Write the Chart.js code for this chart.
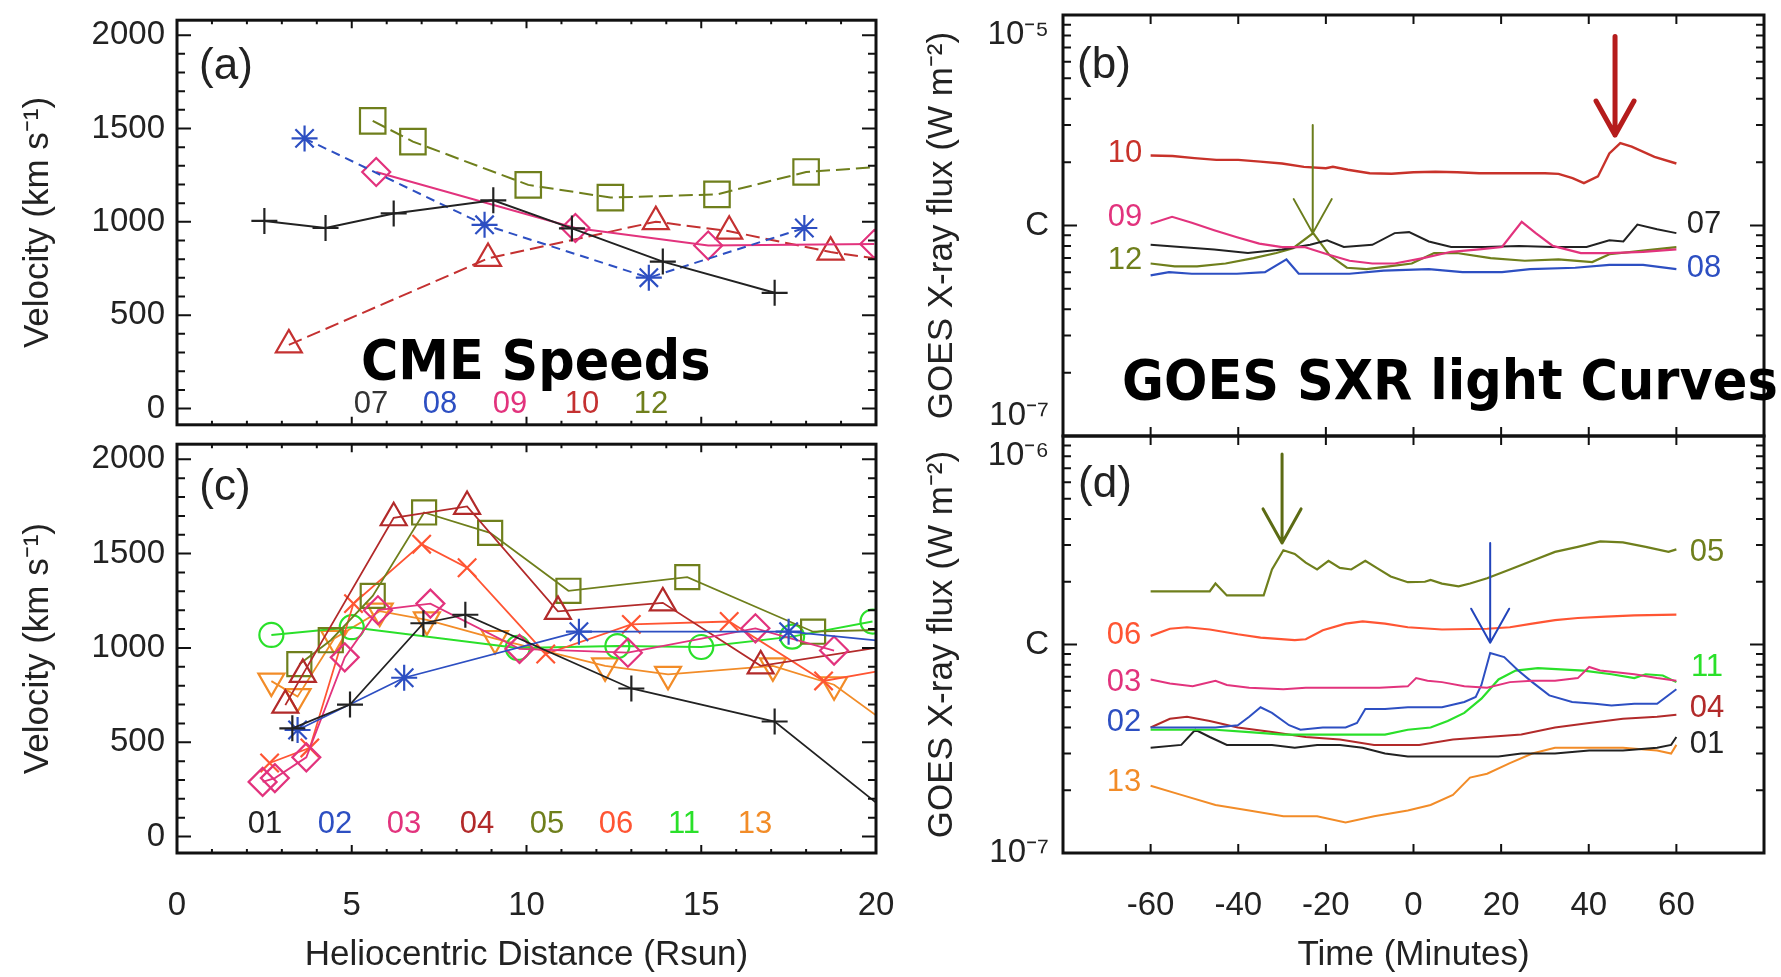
<!DOCTYPE html>
<html>
<head>
<meta charset="utf-8">
<script src="https://cdn.jsdelivr.net/npm/chart.js@4.4.0/dist/chart.umd.min.js"></script>
<style>
  html, body { margin: 0; padding: 0; background: #fff; overflow: hidden; }
  #page { position: relative; width: 1781px; height: 977px; overflow: hidden; font-family: 'Liberation Sans', Arial, Helvetica, sans-serif; }
  canvas { position: absolute; }
  .lab { position: absolute; font-size: 31px; line-height: 1; transform: translate(-50%, -50%); white-space: nowrap; }
  .panel { position: absolute; font-size: 44px; line-height: 1; transform: translate(-50%, -50%); color: #222; }
  .big { position: absolute; font-family: 'DejaVu Sans', sans-serif; font-weight: bold; font-size: 55px; line-height: 1; transform-origin: 0 0; white-space: nowrap; color: #000; }
</style>
</head>
<body>
<div id="page">
  <canvas id="chartA" style="left:0;top:0" width="900" height="445"></canvas>
  <canvas id="chartB" style="left:900px;top:0" width="881" height="445"></canvas>
  <canvas id="chartC" style="left:0;top:425px" width="900" height="552"></canvas>
  <canvas id="chartD" style="left:900px;top:425px" width="881" height="552"></canvas>

  <div class="panel" style="left:226px;top:64px">(a)</div>
  <div class="panel" style="left:1104px;top:63px">(b)</div>
  <div class="panel" style="left:225px;top:485px">(c)</div>
  <div class="panel" style="left:1105px;top:482px">(d)</div>

  <div class="lab" style="left:371px;top:402px;color:#333">07</div>
  <div class="lab" style="left:440px;top:402px;color:#2d4fc2">08</div>
  <div class="lab" style="left:510px;top:402px;color:#e2337d">09</div>
  <div class="lab" style="left:582px;top:402px;color:#c43131">10</div>
  <div class="lab" style="left:651px;top:402px;color:#6f7f1c">12</div>

  <div class="lab" style="left:265px;top:822px;color:#222">01</div>
  <div class="lab" style="left:335px;top:822px;color:#2d4fc2">02</div>
  <div class="lab" style="left:404px;top:822px;color:#e2337d">03</div>
  <div class="lab" style="left:477px;top:822px;color:#b22a2a">04</div>
  <div class="lab" style="left:547px;top:822px;color:#6f7f1c">05</div>
  <div class="lab" style="left:616px;top:822px;color:#ff5533">06</div>
  <div class="lab" style="left:684px;top:822px;color:#2ae02a">11</div>
  <div class="lab" style="left:755px;top:822px;color:#f28c28">13</div>

  <div class="lab" style="left:1125px;top:151px;color:#c8322a">10</div>
  <div class="lab" style="left:1125px;top:215px;color:#e2337d">09</div>
  <div class="lab" style="left:1125px;top:258px;color:#6f7f1c">12</div>
  <div class="lab" style="left:1704px;top:222px;color:#222">07</div>
  <div class="lab" style="left:1704px;top:266px;color:#2d4fc2">08</div>

  <div class="lab" style="left:1707px;top:550px;color:#6f7f1c">05</div>
  <div class="lab" style="left:1124px;top:633px;color:#ff5533">06</div>
  <div class="lab" style="left:1124px;top:680px;color:#e2337d">03</div>
  <div class="lab" style="left:1124px;top:720px;color:#2d4fc2">02</div>
  <div class="lab" style="left:1124px;top:780px;color:#f28c28">13</div>
  <div class="lab" style="left:1707px;top:665px;color:#2ae02a">11</div>
  <div class="lab" style="left:1707px;top:706px;color:#b22a2a">04</div>
  <div class="lab" style="left:1707px;top:742px;color:#222">01</div>

  <div class="big" data-w="350" style="left:361px;top:333px">CME Speeds</div>
  <div class="big" data-w="656" style="left:1122px;top:353px">GOES SXR light Curves</div>
</div>

<script>
// ---- panel (a): CME speed vs heliocentric distance ----
const aR07 = [2.5, 4.25, 6.2, 9.05, 11.3, 13.9, 17.1];
const aV07 = [1005, 967, 1045, 1115, 965, 787, 620];
const aR08 = [3.65, 8.8, 13.5, 17.95];
const aV08 = [1447, 984, 701, 967];
const aR09 = [5.7, 11.4, 15.2, 19.95];
const aV09 = [1267, 967, 873, 881];
const aR10 = [3.2, 8.9, 13.7, 15.8, 18.7, 20];
const aV10 = [341, 804, 1001, 950, 838, 804];
const aR12 = [5.6, 6.75, 10.05, 12.4, 15.45, 18.0, 20];
const aV12 = [1541, 1430, 1198, 1130, 1147, 1267, 1293];

// ---- panel (c) ----
const cR01 = [3.3, 4.95, 7.05, 8.25, 13.0, 17.1, 20];
const cV01 = [574, 700, 1131, 1176, 785, 610, 180];
const cR02 = [3.45, 6.5, 11.5, 17.5, 20];
const cV02 = [565, 842, 1086, 1086, 1040];
const cR03 = [2.45, 2.8, 3.7, 4.8, 5.75, 7.25, 9.8, 12.9, 16.55, 18.8];
const cV03 = [290, 310, 420, 950, 1200, 1235, 995, 975, 1104, 986];
const cR04 = [3.1, 3.6, 6.2, 8.3, 10.9, 13.9, 16.7, 20];
const cV04 = [697, 860, 1690, 1750, 1194, 1239, 905, 1000];
const cR05 = [3.5, 4.4, 5.6, 7.07, 8.96, 11.2, 14.6, 18.2, 20];
const cV05 = [914, 1041, 1276, 1718, 1610, 1303, 1375, 1086, 1095];
const cR06 = [2.65, 3.8, 5.05, 7.0, 8.3, 10.55, 13.0, 15.8, 18.5, 20];
const cV06 = [390, 470, 1235, 1550, 1425, 968, 1125, 1140, 825, 875];
const cR11 = [2.7, 5.0, 9.75, 12.6, 15.0, 17.6, 19.9];
const cV11 = [1069, 1110, 1000, 1010, 1005, 1060, 1140];
const cR13 = [2.7, 3.45, 4.5, 5.8, 7.15, 9.1, 12.25, 14.05, 17.05, 18.8, 20];
const cV13 = [824, 742, 1050, 1195, 1149, 1050, 905, 860, 905, 805, 643];

// ---- panel (b): GOES flux, in units of 1e-6 W m^-2 (C class) ----
const bT10 = [-60, -55, -50, -45, -40, -35, -30, -25, -20, -18.4, -15, -10, -5, 0, 5, 10, 15, 20, 25, 30, 33.1, 36.3, 38.9, 42.1, 44.7, 47.2, 49.8, 55, 60];
const bC10 = [2.15, 2.14, 2.09, 2.05, 2.05, 2.01, 1.97, 1.90, 1.87, 1.90, 1.84, 1.77, 1.76, 1.79, 1.80, 1.79, 1.77, 1.77, 1.77, 1.77, 1.76, 1.68, 1.59, 1.71, 2.20, 2.46, 2.37, 2.12, 1.97];
const bT09 = [-60, -55.1, -50.6, -45.5, -40.3, -35.2, -30, -24.9, -19.7, -14.6, -9.4, -4.3, 2.2, 8.6, 15, 20.2, 24.7, 27.9, 31.8, 38.2, 44.7, 52.4, 60];
const bC09 = [1.02, 1.10, 1.03, 0.95, 0.88, 0.82, 0.79, 0.79, 0.73, 0.68, 0.66, 0.66, 0.70, 0.75, 0.77, 0.79, 1.04, 0.92, 0.80, 0.74, 0.74, 0.75, 0.77];
const bT07 = [-60, -53.2, -45.5, -37.8, -30, -23.6, -19.7, -15.9, -9.4, -4.3, -1, 3.5, 8.6, 16.3, 24.1, 31.8, 39.5, 44.7, 47.9, 51.1, 55.6, 60];
const bC07 = [0.81, 0.79, 0.77, 0.74, 0.77, 0.81, 0.85, 0.79, 0.81, 0.92, 0.93, 0.84, 0.79, 0.79, 0.80, 0.79, 0.79, 0.85, 0.84, 1.01, 0.96, 0.92];
const bT12 = [-60, -54.5, -49.4, -42.9, -36.5, -31.3, -27.5, -22.9, -19.1, -15.2, -10.7, -5.6, -0.4, 4.7, 9.9, 17.6, 25.4, 33.1, 40.8, 44.7, 52.4, 60];
const bC12 = [0.66, 0.64, 0.64, 0.66, 0.70, 0.74, 0.78, 0.92, 0.72, 0.63, 0.62, 0.64, 0.66, 0.74, 0.74, 0.70, 0.68, 0.69, 0.67, 0.73, 0.76, 0.79];
const bT08 = [-60, -55.8, -50.6, -40.3, -33.9, -29, -26.2, -14.6, -6.8, 3.5, 11.2, 20.2, 26.6, 36.9, 44.7, 52.4, 60];
const bC08 = [0.58, 0.60, 0.59, 0.59, 0.60, 0.69, 0.59, 0.59, 0.61, 0.62, 0.60, 0.60, 0.62, 0.63, 0.65, 0.65, 0.62];

// ---- panel (d) ----
const dT05 = [-60, -46.5, -45.2, -42.6, -34.2, -32.3, -29.7, -27.1, -24.6, -22, -19.4, -16.8, -14.2, -11, -8.4, -5.2, -1.3, 2.6, 3.9, 6.5, 10.3, 12.9, 16.8, 22, 27.1, 32.3, 37.5, 42.6, 47.8, 53, 58.2, 60];
const dC05 = [1.80, 1.80, 1.96, 1.72, 1.72, 2.29, 2.83, 2.72, 2.47, 2.29, 2.52, 2.33, 2.29, 2.52, 2.33, 2.12, 1.99, 2.00, 2.04, 1.96, 1.90, 1.96, 2.08, 2.29, 2.52, 2.78, 2.94, 3.12, 3.09, 2.94, 2.78, 2.86];
const dT06 = [-60, -55.6, -51.7, -46.5, -40.1, -34.9, -27.1, -24.6, -20.7, -15.5, -11.6, -6.5, -1.3, 6.5, 16.8, 22, 27.1, 32.3, 37.5, 43.9, 50.4, 60];
const dC06 = [1.10, 1.19, 1.21, 1.18, 1.12, 1.08, 1.05, 1.06, 1.17, 1.26, 1.29, 1.26, 1.21, 1.18, 1.19, 1.21, 1.26, 1.31, 1.34, 1.36, 1.38, 1.39];
const dT03 = [-60, -55.6, -50.4, -45.2, -42.6, -37.5, -29.7, -24.6, -16.8, -7.8, -1.3, 0.6, 3.2, 6.5, 11.6, 16.8, 22, 27.1, 32.3, 37.5, 40.1, 42.6, 50.4, 55.6, 60];
const dC03 = [0.68, 0.65, 0.63, 0.67, 0.64, 0.62, 0.61, 0.62, 0.62, 0.62, 0.63, 0.69, 0.67, 0.66, 0.63, 0.62, 0.66, 0.67, 0.67, 0.69, 0.78, 0.75, 0.72, 0.69, 0.67];
const dT02 = [-60, -53, -45.2, -40.1, -37.5, -34.9, -32.3, -28.4, -25.8, -20.7, -15.5, -12.9, -11, -6.5, -1.3, 6.5, 11.6, 14.2, 15.5, 17.5, 20.7, 23.9, 27.1, 31, 36.2, 41.4, 45.2, 50.4, 55.6, 60];
const dC02 = [0.40, 0.40, 0.40, 0.41, 0.45, 0.50, 0.47, 0.41, 0.39, 0.40, 0.40, 0.42, 0.49, 0.49, 0.50, 0.50, 0.53, 0.56, 0.64, 0.91, 0.87, 0.75, 0.66, 0.57, 0.53, 0.52, 0.51, 0.52, 0.52, 0.61];
const dT11 = [-60, -53, -45.2, -37.5, -29.7, -22, -14.2, -6.5, -1.3, 3.9, 7.8, 11.6, 15.5, 19.4, 23.3, 28.4, 33.6, 38.8, 45.2, 50.4, 53, 56.9, 60];
const dC11 = [0.39, 0.39, 0.39, 0.38, 0.37, 0.37, 0.37, 0.37, 0.39, 0.40, 0.43, 0.47, 0.55, 0.68, 0.75, 0.77, 0.76, 0.75, 0.72, 0.69, 0.72, 0.71, 0.66];
const dT04 = [-60, -55.6, -51.7, -46.5, -40.1, -32.3, -24.6, -16.8, -9, -3.9, 1.3, 9, 16.8, 24.6, 32.3, 40.1, 47.8, 55.6, 60];
const dC04 = [0.40, 0.44, 0.45, 0.43, 0.40, 0.38, 0.36, 0.35, 0.33, 0.33, 0.33, 0.35, 0.36, 0.37, 0.40, 0.42, 0.44, 0.45, 0.46];
const dT01 = [-60, -53, -49.8, -46.5, -42.6, -37.5, -32.3, -27.1, -22, -16.8, -11.6, -6.5, -1.3, 3.9, 11.6, 19.4, 24.6, 32.3, 40.1, 47.8, 55.6, 58.8, 60];
const dC01 = [0.32, 0.33, 0.39, 0.36, 0.33, 0.33, 0.33, 0.32, 0.33, 0.33, 0.32, 0.30, 0.29, 0.29, 0.29, 0.29, 0.30, 0.30, 0.31, 0.31, 0.32, 0.33, 0.36];
const dT13 = [-60, -53, -45.2, -37.5, -29.7, -22, -15.5, -9, -1.3, 3.9, 9, 12.9, 16.8, 22, 27.1, 32.3, 40.1, 47.8, 55.6, 58.8, 60];
const dC13 = [0.21, 0.19, 0.17, 0.16, 0.15, 0.15, 0.14, 0.15, 0.16, 0.17, 0.19, 0.23, 0.24, 0.27, 0.30, 0.32, 0.32, 0.32, 0.31, 0.30, 0.33];

// arrows marking flare peaks (time, tail flux, tip flux)
const bArrowT = [-23, 46];
const bArrowFrom = [3.0, 7.9];
const bArrowTo = [0.92, 2.69];
const dArrowT = [-30, 17.5];
const dArrowFrom = [8.2, 3.07];
const dArrowTo = [3.07, 1.02];

// ticks
const speedTicks = [0, 500, 1000, 1500, 2000];
const distTicks = [0, 5, 10, 15, 20];
const timeTicks = [-60, -40, -20, 0, 20, 40, 60];
const fluxTicks = [0.1, 1, 10];
const bFluxText = [['10⁻⁷', ''], 'C', ['', '10⁻⁵']];
const dFluxText = ['10⁻⁷', 'C', ['', '10⁻⁶']];

const speedMinor = [];
for (let v = 100; v < 2000; v += 100) if (v % 500) speedMinor.push(v);
const distMinor = [];
for (let v = 1; v < 20; v += 1) if (v % 5) distMinor.push(v);
const fluxMinor = [];
[0.1, 1].forEach((d) => { for (let k = 2; k <= 9; k += 1) fluxMinor.push(d * k); });

const FONT = "'Liberation Sans', Arial, Helvetica, sans-serif";
const TEXT = '#222';
const BLACK = '#222222';
const BLUE = '#2d4fc2';
const PINK = '#e2337d';
const RED = '#c43131';
const DARKRED = '#b22a2a';
const OLIVE = '#6f7f1c';
const ORANGERED = '#ff5533';
const GREEN = '#2ae02a';
const ORANGE = '#f28c28';

const framePlugin = {
  id: 'frameTicks',
  afterDraw(chart, args, o) {
    const { ctx, chartArea: a } = chart;
    const { x, y } = chart.scales;
    ctx.save();
    ctx.strokeStyle = '#111';
    ctx.lineWidth = 2;
    ctx.beginPath();
    const hTick = (v, len) => {
      const p = y.getPixelForValue(v);
      ctx.moveTo(a.left, p); ctx.lineTo(a.left + len, p);
      ctx.moveTo(a.right, p); ctx.lineTo(a.right - len, p);
    };
    const vTick = (v, len) => {
      const p = x.getPixelForValue(v);
      ctx.moveTo(p, a.top); ctx.lineTo(p, a.top + len);
      ctx.moveTo(p, a.bottom); ctx.lineTo(p, a.bottom - len);
    };
    o.yMajor.forEach((v) => hTick(v, o.yLen[0]));
    o.yMinor.forEach((v) => hTick(v, o.yLen[1]));
    o.xMajor.forEach((v) => vTick(v, o.xLen[0]));
    o.xMinor.forEach((v) => vTick(v, o.xLen[1]));
    ctx.stroke();
    ctx.lineWidth = 3;
    ctx.strokeRect(a.left, a.top, a.right - a.left, a.bottom - a.top);
    ctx.restore();
  },
};

const arrowPlugin = {
  id: 'arrows',
  afterDatasetsDraw(chart, args, o) {
    if (!o.t) return;
    const { ctx } = chart;
    const { x, y } = chart.scales;
    o.t.forEach((t, i) => {
      const px = x.getPixelForValue(t);
      const y0 = y.getPixelForValue(o.from[i]);
      const y1 = y.getPixelForValue(o.to[i]);
      ctx.save();
      ctx.strokeStyle = o.colors[i];
      ctx.lineWidth = o.widths[i];
      ctx.lineCap = 'round';
      ctx.lineJoin = 'round';
      ctx.beginPath();
      ctx.moveTo(px, y0); ctx.lineTo(px, y1);
      ctx.moveTo(px - 19, y1 - 34); ctx.lineTo(px, y1); ctx.lineTo(px + 19, y1 - 34);
      ctx.stroke();
      ctx.restore();
    });
  },
};

const makeSet = (s) => ({
  data: s.x.map((x, i) => ({ x, y: s.y[i] })),
  borderColor: s.color,
  borderWidth: s.width || 2,
  borderDash: s.dash || [],
  pointStyle: s.marker || 'circle',
  pointRadius: s.x.map((_, i) => (s.marker && !(s.tail && i === s.x.length - 1) ? s.size : 0)),
  pointRotation: s.rot || 0,
  pointBorderColor: s.color,
  pointBorderWidth: 2.2,
  pointBackgroundColor: 'rgba(255,255,255,0)',
  tension: 0,
  clip: 0,
});

const tickFont = { family: FONT, size: 33 };
const titleFont = { family: FONT, size: 35 };

const noPad = (s) => {
  s.paddingTop = 0;
  s.paddingBottom = 0;
  s.paddingLeft = 0;
  s.paddingRight = 0;
};

const makeChart = (id, cfg) => new Chart(document.getElementById(id), {
  type: 'line',
  data: { datasets: cfg.sets.map(makeSet) },
  plugins: [framePlugin, arrowPlugin],
  options: {
    responsive: false,
    animation: false,
    events: [],
    layout: { padding: cfg.pad },
    plugins: {
      legend: { display: false },
      tooltip: { enabled: false },
      frameTicks: cfg.frame,
      arrows: cfg.arrows || {},
    },
    scales: {
      x: {
        type: 'linear',
        min: cfg.xMin,
        max: cfg.xMax,
        display: cfg.showX,
        afterBuildTicks: (s) => { s.ticks = cfg.xTicks.map((value) => ({ value })); },
        afterFit: (s) => {
          noPad(s);
          s.height = cfg.showX ? 124 : 0;
        },
        grid: { display: false, drawTicks: false },
        border: { display: false },
        ticks: { padding: 33, color: TEXT, font: tickFont, maxRotation: 0, autoSkip: false, callback: (v) => String(v) },
        title: { display: cfg.showX, text: cfg.xTitle, color: TEXT, font: titleFont, padding: { top: 0, bottom: 1 } },
      },
      y: {
        type: cfg.yType,
        min: cfg.yMin,
        max: cfg.yMax,
        afterBuildTicks: (s) => { s.ticks = cfg.yTicks.map((value) => ({ value })); },
        afterFit: (s) => {
          noPad(s);
          s.width = cfg.yWidth;
        },
        grid: { display: false, drawTicks: false },
        border: { display: false },
        ticks: { padding: cfg.yPad, color: TEXT, font: tickFont, autoSkip: false, callback: cfg.yLabel },
        title: { display: true, text: cfg.yTitle, color: TEXT, font: titleFont, padding: { top: cfg.titlePad, bottom: 0 } },
      },
    },
  },
});

const speedFrame = { xMajor: distTicks, xMinor: distMinor, yMajor: speedTicks, yMinor: speedMinor, xLen: [8, 4], yLen: [14, 8] };
const fluxFrame = { xMajor: timeTicks, xMinor: [], yMajor: fluxTicks, yMinor: fluxMinor, xLen: [9, 4], yLen: [14, 8] };

makeChart('chartA', {
  pad: { left: 0, right: 24, top: 14, bottom: 10 },
  showX: false, xMin: 0, xMax: 20, xTicks: distTicks, xTitle: '',
  yType: 'linear', yMin: -87, yMax: 2080, yTicks: speedTicks, yWidth: 177, yPad: 12, titlePad: 17,
  yLabel: (v) => String(v), yTitle: 'Velocity (km s⁻¹)',
  frame: speedFrame,
  sets: [
    { x: aR07, y: aV07, color: BLACK, marker: 'cross', size: 13 },
    { x: aR08, y: aV08, color: BLUE, marker: 'star', size: 13, dash: [9, 6] },
    { x: aR09, y: aV09, color: PINK, marker: 'rectRot', size: 14 },
    { x: aR10, y: aV10, color: RED, marker: 'triangle', size: 15, dash: [14, 6], tail: true },
    { x: aR12, y: aV12, color: OLIVE, marker: 'rect', size: 18, dash: [14, 6], tail: true },
  ],
});

makeChart('chartC', {
  pad: { left: 0, right: 24, top: 10, bottom: 0 },
  showX: true, xMin: 0, xMax: 20, xTicks: distTicks, xTitle: 'Heliocentric Distance (Rsun)',
  yType: 'linear', yMin: -87, yMax: 2080, yTicks: speedTicks, yWidth: 177, yPad: 12, titlePad: 17,
  yLabel: (v) => String(v), yTitle: 'Velocity (km s⁻¹)',
  frame: speedFrame,
  sets: [
    { x: cR01, y: cV01, color: BLACK, marker: 'cross', size: 13, width: 1.8, tail: true },
    { x: cR02, y: cV02, color: BLUE, marker: 'star', size: 13, width: 1.8, tail: true },
    { x: cR03, y: cV03, color: PINK, marker: 'rectRot', size: 14, width: 1.8 },
    { x: cR04, y: cV04, color: DARKRED, marker: 'triangle', size: 15, width: 1.8, tail: true },
    { x: cR05, y: cV05, color: OLIVE, marker: 'rect', size: 17, width: 1.8, tail: true },
    { x: cR06, y: cV06, color: ORANGERED, marker: 'crossRot', size: 13, width: 1.8, tail: true },
    { x: cR11, y: cV11, color: GREEN, marker: 'circle', size: 12, width: 2 },
    { x: cR13, y: cV13, color: ORANGE, marker: 'triangle', size: 15, rot: 180, width: 1.8, tail: true },
  ],
});

makeChart('chartB', {
  pad: { left: 0, right: 17, top: 15, bottom: 9 },
  showX: false, xMin: -80, xMax: 80, xTicks: timeTicks, xTitle: '',
  yType: 'logarithmic', yMin: 0.1, yMax: 10, yTicks: fluxTicks, yWidth: 163, yPad: 14, titlePad: 21,
  yLabel: (v, i) => bFluxText[i], yTitle: 'GOES X-ray flux (W m⁻²)',
  frame: fluxFrame,
  arrows: { t: bArrowT, from: bArrowFrom, to: bArrowTo, colors: ['#6b7d1c', '#b51c1c'], widths: [2, 5] },
  sets: [
    { x: bT10, y: bC10, color: '#c8322a', width: 2.4 },
    { x: bT09, y: bC09, color: PINK, width: 2.2 },
    { x: bT07, y: bC07, color: BLACK, width: 2 },
    { x: bT12, y: bC12, color: OLIVE, width: 2.2 },
    { x: bT08, y: bC08, color: BLUE, width: 2.2 },
  ],
});

makeChart('chartD', {
  pad: { left: 0, right: 17, top: 11, bottom: 0 },
  showX: true, xMin: -80, xMax: 80, xTicks: timeTicks, xTitle: 'Time (Minutes)',
  yType: 'logarithmic', yMin: 0.1, yMax: 10, yTicks: fluxTicks, yWidth: 163, yPad: 14, titlePad: 21,
  yLabel: (v, i) => dFluxText[i], yTitle: 'GOES X-ray flux (W m⁻²)',
  frame: fluxFrame,
  arrows: { t: dArrowT, from: dArrowFrom, to: dArrowTo, colors: ['#5c6b14', '#2244bb'], widths: [3, 2] },
  sets: [
    { x: dT05, y: dC05, color: OLIVE, width: 2.2 },
    { x: dT06, y: dC06, color: ORANGERED, width: 2.2 },
    { x: dT03, y: dC03, color: PINK, width: 2 },
    { x: dT02, y: dC02, color: BLUE, width: 2 },
    { x: dT11, y: dC11, color: GREEN, width: 2.2 },
    { x: dT04, y: dC04, color: DARKRED, width: 2 },
    { x: dT01, y: dC01, color: BLACK, width: 2 },
    { x: dT13, y: dC13, color: ORANGE, width: 2 },
  ],
});

document.querySelectorAll('.big').forEach((el) => {
  el.style.transform = `scaleX(${Number(el.dataset.w) / el.offsetWidth})`;
});
</script>
</body>
</html>
